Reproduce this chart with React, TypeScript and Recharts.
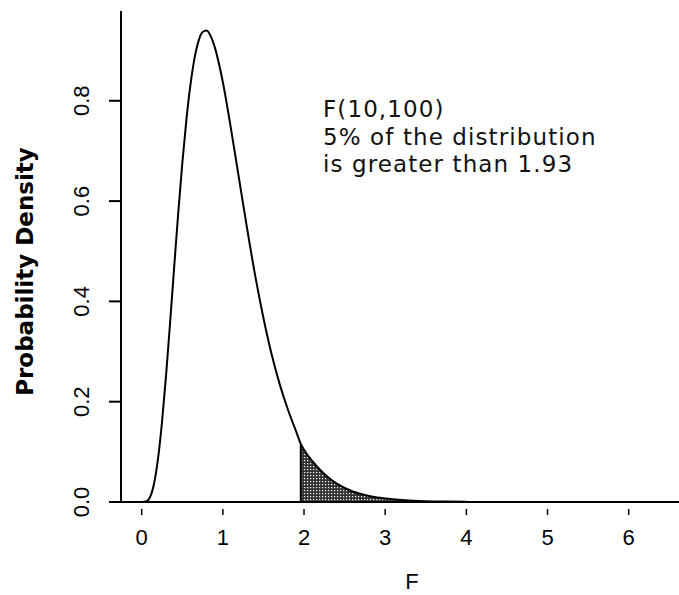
import { ComposedChart, Line, Area, XAxis, YAxis, ReferenceLine } from 'recharts'

// F(10,100) density
const fValues = [
  0, 0.05, 0.1, 0.15, 0.2, 0.25, 0.3, 0.35, 0.4, 0.45, 0.5, 0.55, 0.6, 0.65, 0.7, 0.75, 0.8, 0.85, 0.9,
  1.0, 1.1, 1.2, 1.3, 1.4, 1.5, 1.6, 1.7, 1.8, 1.9, 1.96, 2.0, 2.1, 2.2, 2.3, 2.4, 2.5, 2.6, 2.7, 2.8,
  2.9, 3.0, 3.25, 3.5, 3.75, 4.0,
]
const densityValues = [
  0, 0.0008, 0.009, 0.035, 0.085, 0.159, 0.252, 0.358, 0.468, 0.576, 0.675, 0.761, 0.831, 0.884, 0.919,
  0.937, 0.94, 0.929, 0.907, 0.837, 0.744, 0.644, 0.544, 0.45, 0.367, 0.295, 0.235, 0.185, 0.142, 0.116,
  0.104, 0.082, 0.064, 0.049, 0.037, 0.028, 0.021, 0.016, 0.012, 0.009, 0.007, 0.0033, 0.0016, 0.0008,
  0.0004,
]
const xTicks = [0, 1, 2, 3, 4, 5, 6]
const yTicks = [0, 0.2, 0.4, 0.6, 0.8]
const yTickLabels = ['0.0', '0.2', '0.4', '0.6', '0.8']
// where the shaded tail starts in the picture (the 5% cut at 1.93)
const shadeStart = 1.96
const shadeTop = 0.116
const noteLines = ['F(10,100)', '5% of the distribution', 'is greater than 1.93']

const data = fValues.map((f, i) => ({
  f,
  density: densityValues[i],
  tail: f >= shadeStart ? densityValues[i] : null,
}))

const tickFont = 'Arial, "Liberation Sans", Helvetica, sans-serif'
const noteFont = 'Verdana, "DejaVu Sans", sans-serif'

function XTick({ x, y, payload }: any) {
  return (
    <g>
      <line x1={x} x2={x} y1={y + 7} y2={y + 13} stroke="#000" strokeWidth={1.5} />
      <text x={x} y={y + 43} textAnchor="middle" fontSize={22} fontFamily={tickFont} fill="#000">
        {payload.value}
      </text>
    </g>
  )
}

function YTick({ x, y, payload, index }: any) {
  const tx = x - 18
  return (
    <text
      x={tx}
      y={y}
      transform={`rotate(-90, ${tx}, ${y})`}
      textAnchor="middle"
      fontSize={22}
      fontFamily={tickFont}
      fill="#000"
    >
      {yTickLabels[index] ?? payload.value}
    </text>
  )
}

function YTitle({ viewBox }: any) {
  const cx = 33
  const cy = viewBox.y + viewBox.height / 2 + 15
  return (
    <text
      x={cx}
      y={cy}
      transform={`rotate(-90, ${cx}, ${cy})`}
      textAnchor="middle"
      fontSize={23}
      fontWeight="bold"
      fontFamily={noteFont}
      fill="#000"
    >
      Probability Density
    </text>
  )
}

function XTitle({ viewBox }: any) {
  const cx = viewBox.x + viewBox.width / 2 + 12
  return (
    <text x={cx} y={589} textAnchor="middle" fontSize={22} fontFamily={tickFont} fill="#000">
      F
    </text>
  )
}

export default function App() {
  return (
    <div style={{ position: 'absolute', left: 0, top: 0, width: 679, height: 595, background: '#fff' }}>
      <ComposedChart width={679} height={595} data={data} margin={{ top: 11, right: 0, bottom: 0, left: 0 }}>
        <defs>
          <pattern id="dots" width={3} height={3} patternUnits="userSpaceOnUse">
            <rect width={3} height={3} fill="#333" />
            <rect x={1} y={1} width={1.2} height={1.2} fill="#fff" />
          </pattern>
        </defs>
        <XAxis
          dataKey="f"
          type="number"
          domain={[-0.255, 6.62]}
          ticks={xTicks}
          allowDataOverflow
          height={93}
          tickLine={false}
          tickSize={0}
          tickMargin={0}
          axisLine={{ stroke: '#000', strokeWidth: 2 }}
          tick={<XTick />}
          label={<XTitle />}
        />
        <YAxis
          type="number"
          domain={[0, 0.979]}
          ticks={yTicks}
          allowDataOverflow
          width={121}
          tickSize={12}
          tickMargin={2}
          tickLine={{ stroke: '#000', strokeWidth: 2 }}
          axisLine={{ stroke: '#000', strokeWidth: 2 }}
          tick={<YTick />}
          label={<YTitle />}
        />
        <Area
          dataKey="tail"
          type="monotone"
          fill="url(#dots)"
          fillOpacity={1}
          stroke="none"
          isAnimationActive={false}
        />
        <ReferenceLine
          segment={[
            { x: shadeStart, y: 0 },
            { x: shadeStart, y: shadeTop },
          ]}
          stroke="#000"
          strokeWidth={2}
        />
        <Line
          dataKey="density"
          type="monotone"
          stroke="#000"
          strokeWidth={2}
          dot={false}
          isAnimationActive={false}
        />
      </ComposedChart>
      <div
        style={{
          position: 'absolute',
          left: 323,
          top: 96,
          fontFamily: noteFont,
          fontSize: 23,
          lineHeight: '27.5px',
          letterSpacing: 1.1,
          color: '#111',
          whiteSpace: 'pre',
        }}
      >
        {noteLines.map(l => (
          <div key={l}>{l}</div>
        ))}
      </div>
    </div>
  )
}
